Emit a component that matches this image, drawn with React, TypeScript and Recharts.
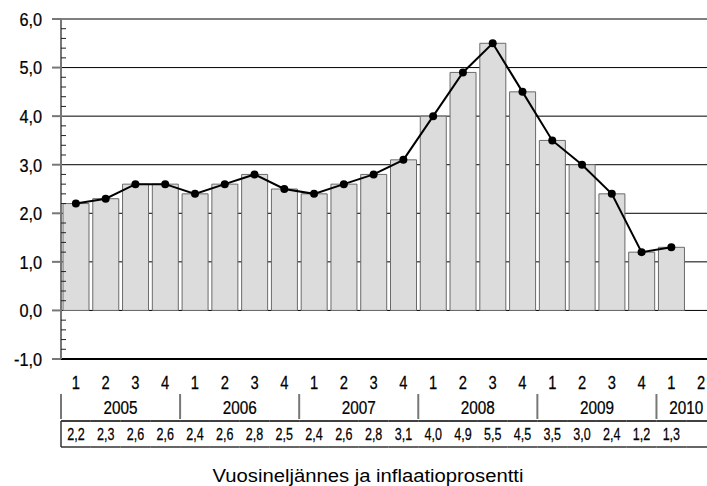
import React from 'react';
import { ComposedChart, Bar, Line, XAxis, YAxis, CartesianGrid } from 'recharts';

const quarters = ['1', '2', '3', '4', '1', '2', '3', '4', '1', '2', '3', '4', '1', '2', '3', '4', '1', '2', '3', '4', '1', '2'];
const years = ['2005', '2005', '2005', '2005', '2006', '2006', '2006', '2006', '2007', '2007', '2007', '2007', '2008', '2008', '2008', '2008', '2009', '2009', '2009', '2009', '2010', '2010'];
const inflation: (number | null)[] = [2.2, 2.3, 2.6, 2.6, 2.4, 2.6, 2.8, 2.5, 2.4, 2.6, 2.8, 3.1, 4.0, 4.9, 5.5, 4.5, 3.5, 3.0, 2.4, 1.2, 1.3, null];
const valueLabels = ['2,2', '2,3', '2,6', '2,6', '2,4', '2,6', '2,8', '2,5', '2,4', '2,6', '2,8', '3,1', '4,0', '4,9', '5,5', '4,5', '3,5', '3,0', '2,4', '1,2', '1,3', ''];
const gridValues = [0, 1, 2, 3, 4, 5, 6];
const yDomain = [-1, 6];
const yTicks = Array.from({ length: 36 }, (_, i) => Math.round((i * 0.2 - 1) * 10) / 10);
const title = 'Vuosineljännes ja inflaatioprosentti';

const FONT = "'Liberation Sans', Arial, sans-serif";

const data = quarters.map((q, i) => ({
  key: `${years[i]}-${q}`,
  idx: i,
  q,
  year: years[i],
  value: inflation[i],
  label: valueLabels[i],
}));

const yearCount = (y: string) => years.filter((v) => v === y).length;

const NText = ({ x, y, size, sx, anchor = 'middle', children }: any) => (
  <text
    transform={`translate(${x},${y}) scale(${sx},1)`}
    x={0}
    y={0}
    textAnchor={anchor}
    fontFamily={FONT}
    fontSize={size}
    fill="#000"
    stroke="#000"
    strokeWidth={0.25}
  >
    {children}
  </text>
);

const XTick = (props: any) => {
  const { x, y, payload, visibleTicksCount, width } = props;
  const i = Number(payload.value);
  const d = data[i];
  const band = (width || 655) / (visibleTicksCount || data.length);
  const half = band / 2;
  const first = i === 0 || years[i - 1] !== d.year;
  return (
    <g>
      <NText x={x} y={y + 30} size={18} sx={0.82}>
        {d.q}
      </NText>
      {first && (
        <line x1={x - half} x2={x - half} y1={y + 35} y2={y + 60} stroke="#777" strokeWidth={2} />
      )}
      {first && (
        <NText x={x + ((yearCount(d.year) - 1) * band) / 2} y={y + 55} size={18} sx={0.85}>
          {d.year}
        </NText>
      )}
      <line x1={x - half} x2={x + half} y1={y + 62} y2={y + 62} stroke="#000" strokeWidth={1.5} />
      <line x1={x - half} x2={x + half} y1={y + 88} y2={y + 88} stroke="#333" strokeWidth={1.5} />
      {i === 0 && <line x1={x - half} x2={x - half} y1={y + 62} y2={y + 88} stroke="#333" strokeWidth={1.5} />}
      <NText x={x} y={y + 81} size={16.5} sx={0.76}>
        {d.label}
      </NText>
    </g>
  );
};

const YTick = (props: any) => {
  const { x, y, payload } = props;
  const v = Number(payload.value);
  const major = Math.abs(v - Math.round(v)) < 1e-6;
  if (major) {
    return (
      <g>
        <line x1={x - 9} x2={x} y1={y} y2={y} stroke="#777" strokeWidth={2} />
        <NText x={x - 19} y={y + 6.8} size={18.5} sx={0.88} anchor="end">
          {v.toFixed(1).replace('.', ',')}
        </NText>
      </g>
    );
  }
  return <line x1={x} x2={x + 5} y1={y} y2={y} stroke="#222" strokeWidth={1} />;
};

export default function App() {
  return (
    <div style={{ position: 'absolute', left: 0, top: 0, width: 707, height: 486, overflow: 'hidden', background: '#fff' }}>
      <ComposedChart
        width={716}
        height={486}
        data={data}
        margin={{ top: 19, right: 0, bottom: 0, left: 0 }}
        barSize={26}
      >
        <CartesianGrid vertical={false} horizontalValues={gridValues} stroke="#000" strokeWidth={1} />
        <XAxis
          dataKey="idx"
          type="category"
          height={127}
          interval={0}
          tickLine={false}
          tickSize={0}
          tickMargin={0}
          axisLine={{ stroke: '#000', strokeWidth: 2 }}
          tick={<XTick />}
        />
        <YAxis
          width={61}
          type="number"
          domain={yDomain}
          ticks={yTicks}
          interval={0}
          tickLine={false}
          tickSize={0}
          tickMargin={0}
          axisLine={{ stroke: '#777', strokeWidth: 2 }}
          tick={<YTick />}
        />
        <Bar dataKey="value" fill="#dcdcdc" stroke="#6a6a6a" strokeWidth={1} isAnimationActive={false} />
        <Line
          dataKey="value"
          type="linear"
          stroke="#000"
          strokeWidth={2}
          dot={{ r: 4, fill: '#000', stroke: '#000', strokeWidth: 0 }}
          activeDot={false}
          connectNulls={false}
          isAnimationActive={false}
        />
      </ComposedChart>
      <svg width={707} height={486} style={{ position: 'absolute', left: 0, top: 0, pointerEvents: 'none' }}>
        <text
          x={368}
          y={482}
          textAnchor="middle"
          fontFamily={FONT}
          fontSize={17.5}
          textLength={311}
          lengthAdjust="spacingAndGlyphs"
          fill="#000"
        >
          {title}
        </text>
      </svg>
    </div>
  );
}
